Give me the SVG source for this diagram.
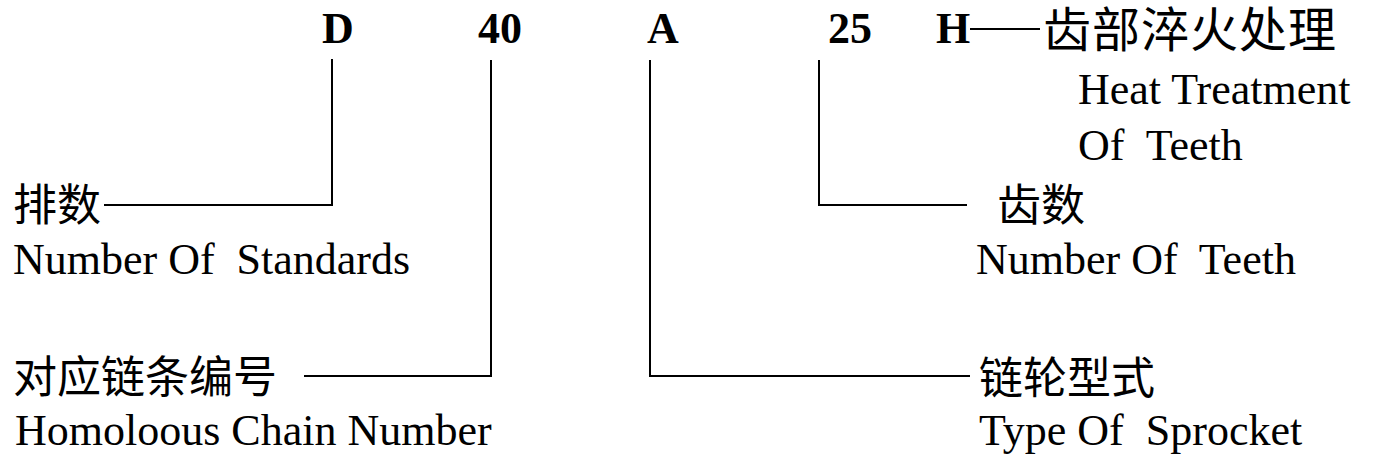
<svg xmlns="http://www.w3.org/2000/svg" width="1375" height="459" viewBox="0 0 1375 459">
<style>
.code{font-family:"Liberation Serif","Times New Roman",serif;font-weight:bold;font-size:44px;fill:#000}
.en{font-family:"Liberation Serif","Times New Roman",serif;font-size:44px;fill:#000}
.cn{font-family:"Liberation Serif","Noto Sans CJK SC",sans-serif;font-size:44px;fill:#000}
.cnl{font-family:"Liberation Serif","Noto Sans CJK SC",sans-serif;font-size:48px;letter-spacing:1px;fill:#000}
.ln{stroke:#000;stroke-width:2;fill:none}
</style>
<rect width="1375" height="459" fill="#fff"/>
<g id="code">
<text class="code" x="322" y="43">D</text>
<text class="code" x="478" y="43">40</text>
<text class="code" x="647" y="43">A</text>
<text class="code" x="828" y="43">25</text>
<text class="code" x="936" y="43">H</text>
</g>
<g id="connectors">
<polyline class="ln" points="332,59 332,205 104,205"/>
<polyline class="ln" points="491,60 491,376 304,376"/>
<polyline class="ln" points="650,60 650,376 970,376"/>
<polyline class="ln" points="819,60 819,205 967,205"/>
<line class="ln" x1="970" y1="29" x2="1040" y2="29"/>
</g>
<g id="node-heat">
<text class="cnl" x="1043" y="47">齿部淬火处理</text>
<text class="en" x="1078" y="104">Heat Treatment</text>
<text class="en" x="1078" y="160" xml:space="preserve">Of  Teeth</text>
</g>
<g id="node-rows">
<text class="cn" x="13" y="221">排数</text>
<text class="en" x="13" y="274" xml:space="preserve">Number Of  Standards</text>
</g>
<g id="node-chain">
<text class="cn" x="13" y="393">对应链条编号</text>
<text class="en" x="15" y="445">Homoloous Chain Number</text>
</g>
<g id="node-teeth">
<text class="cn" x="997" y="221">齿数</text>
<text class="en" x="976" y="274" xml:space="preserve">Number Of  Teeth</text>
</g>
<g id="node-type">
<text class="cn" x="979" y="394">链轮型式</text>
<text class="en" x="979" y="445" xml:space="preserve">Type Of  Sprocket</text>
</g>
</svg>
